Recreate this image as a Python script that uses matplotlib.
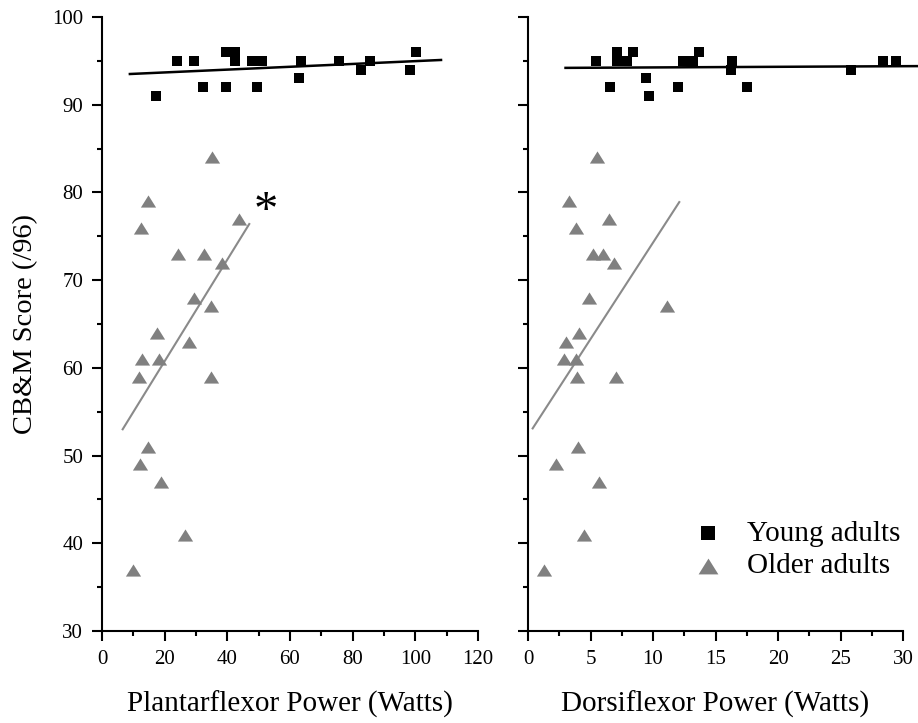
import matplotlib
matplotlib.use("Agg")
import matplotlib.pyplot as plt
from matplotlib.ticker import MultipleLocator
import numpy as np

plt.rcParams['font.family'] = ['Liberation Serif', 'DejaVu Serif']

# ---- Data ----
young_pf = [17.1, 24.0, 29.4, 32.1, 39.6, 42.5, 42.5, 39.6, 47.8, 51.0, 49.4,
            63.6, 62.8, 75.5, 82.6, 85.5, 98.3, 100.2]
young_pf_score = [91, 95, 95, 92, 96, 96, 95, 92, 95, 95, 92,
                  95, 93, 95, 94, 95, 94, 96]
young_df = [5.4, 6.56, 7.1, 7.1, 7.9, 8.4, 9.4, 9.7, 12.0, 12.4, 13.2, 13.7,
            16.3, 16.2, 17.5, 25.8, 28.4, 29.4]
young_df_score = [95, 92, 96, 95, 95, 96, 93, 91, 92, 95, 95, 96,
                  95, 94, 92, 94, 95, 95]

older_pf = [9.8, 12.9, 18.3, 11.8, 34.7, 14.8, 12.1, 18.8, 26.5,
            35.0, 14.8, 43.6, 12.4, 24.2, 32.7, 38.3, 29.4, 34.7, 17.7, 27.7]
older_pf_score = [37, 61, 61, 59, 59, 51, 49, 47, 41,
                  84, 79, 77, 76, 73, 73, 72, 68, 67, 64, 63]
older_df = [1.3, 2.9, 3.8, 3.9, 7.0, 4.0, 2.2, 5.7, 4.5,
            5.5, 3.3, 6.5, 3.8, 5.2, 6.0, 6.9, 4.9, 11.1, 4.08, 3.0]
older_df_score = [37, 61, 61, 59, 59, 51, 49, 47, 41,
                  84, 79, 77, 76, 73, 73, 72, 68, 67, 64, 63]

# regression line endpoints
young_pf_fit_x = [8.9, 108.2]
young_pf_fit_y = [93.5, 95.1]
older_pf_fit_x = [6.6, 47.0]
older_pf_fit_y = [53.0, 76.4]
young_df_fit_x = [3.0, 31.2]
young_df_fit_y = [94.2, 94.4]
older_df_fit_x = [0.37, 12.1]
older_df_fit_y = [53.1, 78.9]

x_labels = ["Plantarflexor Power (Watts)", "Dorsiflexor Power (Watts)"]
y_label = "CB&M Score (/96)"
legend_labels = ["Young adults", "Older adults"]

# ---- Figure ----
fig = plt.figure(figsize=(9.18, 7.23), dpi=100)
ax1 = fig.add_axes([0.1111, 0.1272, 0.4096, 0.8493])
ax2 = fig.add_axes([0.5752, 0.1272, 0.4085, 0.8493])

tri = [(-1, -0.8), (1, -0.8), (0, 0.8), (-1, -0.8)]
gray = '#808080'
TFS = 15
LFS = 21

def style(ax, xmax, xmajor, xminor):
    ax.set_xlim(0, xmax)
    ax.set_ylim(30, 100)
    for s in ['top', 'right']:
        ax.spines[s].set_visible(False)
    for s in ['left', 'bottom']:
        ax.spines[s].set_linewidth(1.5)
    ax.xaxis.set_major_locator(MultipleLocator(xmajor))
    ax.xaxis.set_minor_locator(MultipleLocator(xminor))
    ax.yaxis.set_major_locator(MultipleLocator(10))
    ax.yaxis.set_minor_locator(MultipleLocator(5))
    ax.tick_params(which='major', direction='out', length=7.5, width=1.5, labelsize=TFS, pad=6)
    ax.tick_params(which='minor', direction='out', length=3.8, width=1.5)

style(ax1, 120, 20, 10)
style(ax2, 30, 5, 2.5)
ax2.tick_params(axis='y', labelleft=False)

# left panel
ax1.plot(young_pf_fit_x, young_pf_fit_y, color='black', lw=1.8, zorder=2)
ax1.plot(older_pf_fit_x, older_pf_fit_y, color='#8a8a8a', lw=1.5, zorder=2)
ax1.scatter(young_pf, young_pf_score, marker='s', s=60, color='black', linewidths=0, zorder=3)
ax1.scatter(older_pf, older_pf_score, marker=tri, s=120, color=gray, linewidths=0, zorder=3)
ax1.text(52.3, 77.8, '*', fontsize=35, ha='center', va='center')

# right panel
ax2.plot(young_df_fit_x, young_df_fit_y, color='black', lw=1.8, zorder=2, clip_on=False)
ax2.plot(older_df_fit_x, older_df_fit_y, color='#8a8a8a', lw=1.5, zorder=2)
h1 = ax2.scatter(young_df, young_df_score, marker='s', s=60, color='black', linewidths=0, zorder=3)
h2 = ax2.scatter(older_df, older_df_score, marker=tri, s=120, color=gray, linewidths=0, zorder=3)

ax1.set_ylabel(y_label, fontsize=20.5, labelpad=10)
ax1.set_xlabel(x_labels[0], fontsize=LFS, labelpad=16)
ax2.set_xlabel(x_labels[1], fontsize=LFS, labelpad=16)

leg = ax2.legend([h1, h2], legend_labels, loc='center left', bbox_to_anchor=(0.441, 0.132),
                 frameon=False, fontsize=LFS, handletextpad=0.84, labelspacing=0.2,
                 handlelength=1.0, borderpad=0, markerscale=1.3,
                 scatterpoints=1, borderaxespad=0)

fig.savefig('out.png', dpi=100)
